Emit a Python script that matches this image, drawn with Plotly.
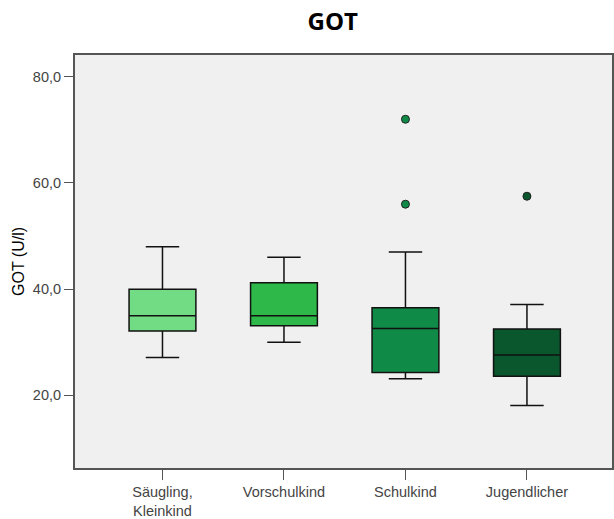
import plotly.graph_objects as go

categories = ["Säugling,<br>Kleinkind", "Vorschulkind", "Schulkind", "Jugendlicher"]
q1 = [32.1, 33.1, 24.3, 23.6]
median = [35.0, 35.0, 32.6, 27.6]
q3 = [40.0, 41.2, 36.5, 32.5]
lower = [27.1, 30.0, 23.1, 18.1]
upper = [48.0, 46.0, 47.0, 37.1]
outlier_cat = ["Schulkind", "Schulkind", "Jugendlicher"]
outlier_val = [72.0, 56.0, 57.5]
outlier_colors = ["#108a47", "#108a47", "#0a572d"]
colors = ["#72dc84", "#2eb84a", "#108a47", "#0a572d"]
ytick_vals = [20, 40, 60, 80]
ytick_text = ["20,0", "40,0", "60,0", "80,0"]

fig = go.Figure()
for i, c in enumerate(categories):
    fig.add_trace(go.Box(
        x=[c], q1=[q1[i]], median=[median[i]], q3=[q3[i]],
        lowerfence=[lower[i]], upperfence=[upper[i]],
        fillcolor=colors[i], line=dict(color="#111111", width=1.5),
        width=0.55, whiskerwidth=0.5, boxpoints=False, showlegend=False,
        hoverinfo="skip",
    ))

fig.add_trace(go.Scatter(
    x=outlier_cat, y=outlier_val,
    mode="markers",
    marker=dict(size=8, color=outlier_colors, line=dict(color="#222222", width=1)),
    showlegend=False, hoverinfo="skip",
))

fig.update_layout(
    width=614, height=519,
    margin=dict(l=75, r=0, t=55, b=49),
    paper_bgcolor="white", plot_bgcolor="#f0f0f0",
    title=dict(text="<b>GOT</b>", x=0.542, xanchor="center", y=0.958, yanchor="middle",
               font=dict(family="Open Sans, Arial", size=24, color="black")),
    font=dict(family="Arial, Liberation Sans", size=14.5, color="#444444"),
)
fig.update_xaxes(
    type="category", categoryorder="array", categoryarray=categories,
    range=[-0.72, 3.7], showgrid=False, zeroline=False,
    showline=True, linecolor="#555555", linewidth=2, mirror=True,
    ticks="outside", ticklen=10, tickcolor="#555555", tickwidth=1,
    tickfont=dict(size=14.5, color="#444444"),
)
fig.update_yaxes(
    range=[6.31, 84.1], showgrid=False, zeroline=False,
    showline=True, linecolor="#555555", linewidth=2, mirror=True,
    ticks="outside", ticklen=9, tickcolor="#555555", tickwidth=1,
    tickvals=ytick_vals, ticktext=ytick_text,
    tickfont=dict(size=14.5, color="#444444"),
    title=dict(text="GOT (U/l)", font=dict(size=16, color="black"), standoff=4),
)

fig.write_html("out.html",
               config={"displayModeBar": False},
               post_script="document.body.style.margin='0';document.body.style.overflow='hidden';")
